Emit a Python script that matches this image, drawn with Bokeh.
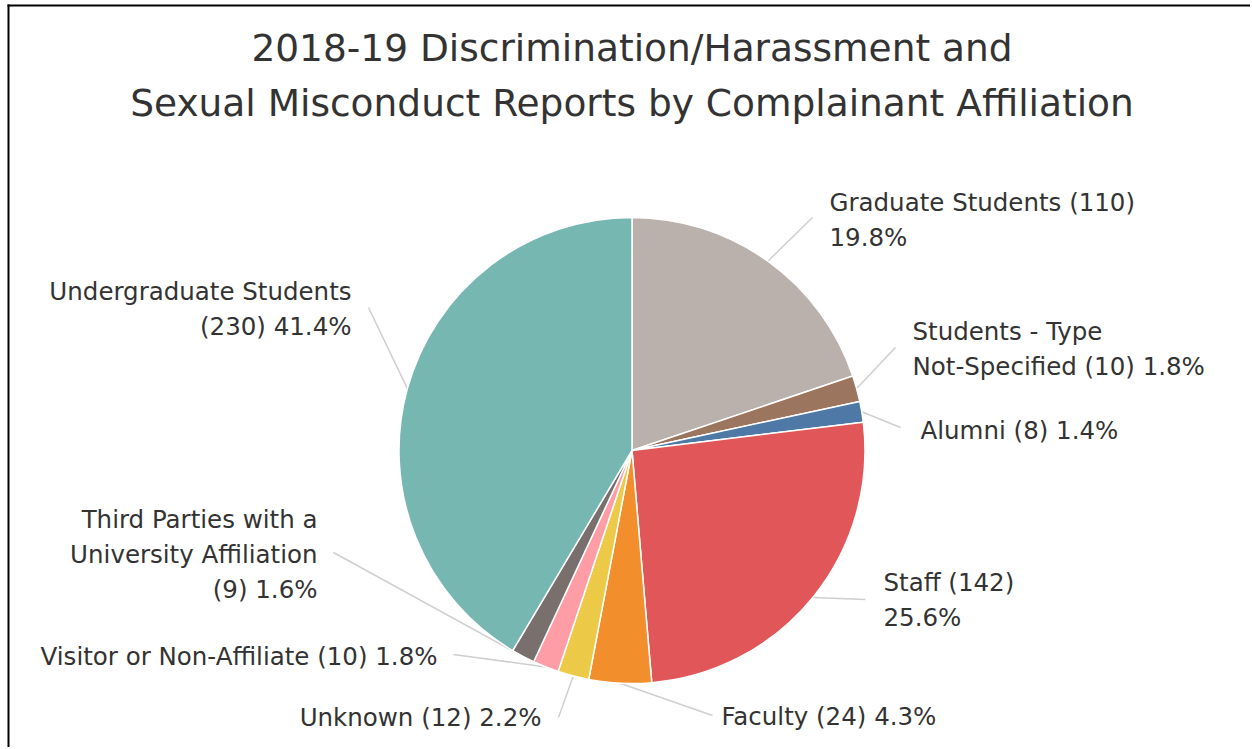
import numpy as np
from bokeh.plotting import figure
from bokeh.models import Range1d, ColumnDataSource
from bokeh.core.properties import value
from bokeh.embed import file_html
from bokeh.resources import INLINE

# ---------------- data ----------------
title_lines = ["2018-19 Discrimination/Harassment and",
               "Sexual Misconduct Reports by Complainant Affiliation"]
categories = ["Graduate Students", "Students - Type Not-Specified", "Alumni", "Staff",
              "Faculty", "Unknown", "Visitor or Non-Affiliate",
              "Third Parties with a University Affiliation", "Undergraduate Students"]
counts = [110, 10, 8, 142, 24, 12, 10, 9, 230]
colors = ["#BAB0AC", "#9C755F", "#4E79A7", "#E15759", "#F28E2B",
          "#EDC948", "#FF9DA7", "#79706E", "#76B7B2"]

# ---------------- label layout (page pixels) ----------------
name_break = [None, "Type", None, None, None, None, None, "with a", None]
value_mode = ["pct_new", "inline", "inline", "pct_new", "inline", "inline", "inline", "new", "new"]
label_x = [829, 912, 920, 883, 721, 541, 437, 317, 351]
label_y = [202, 331, 430, 582, 716, 717, 656, 519, 291]
label_align = ["left", "left", "left", "left", "left", "right", "right", "right", "right"]
leader_x = [812, 895, 900, 865, 712, 558, 453, 333, 368]
leader_y = [217, 347, 427, 599, 715, 717, 654, 552, 307]

W, H = 1250, 747
LINE_GAP = 35
CX, CY, R = 631.5, 450, 233


def Y(ry):
    return H - ry


p = figure(width=W, height=H, x_range=Range1d(0, W), y_range=Range1d(0, H),
           output_backend="svg", toolbar_location=None, min_border=0,
           x_axis_location=None, y_axis_location=None, outline_line_color=None)
p.grid.visible = False
p.background_fill_color = "white"
p.border_fill_color = "white"

# frame border (top and left)
p.segment(x0=[7, 8], y0=[Y(5), Y(4)], x1=[W, 8], y1=[Y(5), Y(H)],
          line_color="black", line_width=2)

total = float(sum(counts))
cnt = np.array(counts, dtype=float)
cum_after = np.cumsum(cnt)
cum_before = cum_after - cnt
start = np.pi / 2 - 2 * np.pi * cum_before / total
end = np.pi / 2 - 2 * np.pi * cum_after / total
mid = (start + end) / 2
pcts = cnt / total * 100

# leader lines
px = CX + R * np.cos(mid)
py = Y(CY) + R * np.sin(mid)
p.segment(x0=leader_x, y0=[Y(v) for v in leader_y], x1=list(px), y1=list(py),
          line_color="#cfcfcf", line_width=1.5)

src = ColumnDataSource(dict(start=start, end=end, color=colors))
p.wedge(x=CX, y=Y(CY), radius=R, start_angle="start", end_angle="end",
        direction="clock", fill_color="color", line_color="white", line_width=1.5,
        source=src)

# labels
groups = {"left": dict(x=[], y=[], text=[]), "right": dict(x=[], y=[], text=[])}
for i, name in enumerate(categories):
    brk = name_break[i]
    if brk:
        k = name.index(brk) + len(brk)
        lines = [name[:k], name[k + 1:]]
    else:
        lines = [name]
    cs = f"({counts[i]})"
    ps = f"{pcts[i]:.1f}%"
    if value_mode[i] == "inline":
        lines[-1] += f" {cs} {ps}"
    elif value_mode[i] == "pct_new":
        lines[-1] += f" {cs}"
        lines.append(ps)
    else:
        lines.append(f"{cs} {ps}")
    g = groups[label_align[i]]
    for j, ln in enumerate(lines):
        g["x"].append(label_x[i])
        g["y"].append(Y(label_y[i] + j * LINE_GAP))
        g["text"].append(ln)

for al, g in groups.items():
    p.text(x=g["x"], y=g["y"], text=g["text"], text_align=al, text_baseline="middle",
           text_font=value("DejaVu Sans"), text_font_size="24.5px", text_color="#333333")

p.text(x=[631.5, 631.5], y=[Y(47.5), Y(102.5)], text=title_lines, text_align="center",
       text_baseline="middle", text_font=value("DejaVu Sans"), text_font_size="37.5px",
       text_color="#333333")

open("out.html", "w").write(file_html(p, INLINE))
